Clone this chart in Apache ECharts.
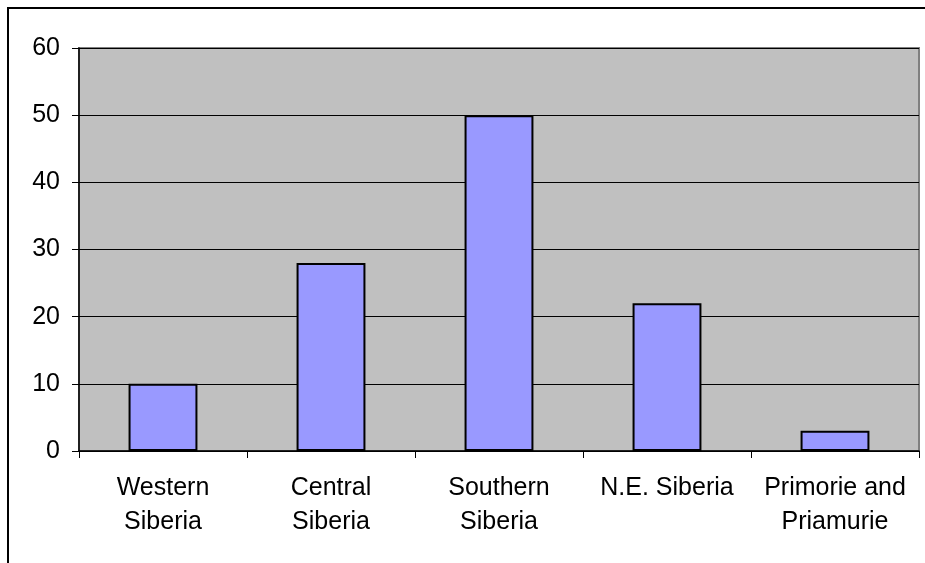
<!DOCTYPE html>
<html>
<head>
<meta charset="utf-8">
<title>Siberia regions</title>
<script src="https://cdn.jsdelivr.net/npm/echarts@6/dist/echarts.min.js"></script>
<style>
  html, body { margin: 0; padding: 0; background: #fff; }
  #chart { width: 925px; height: 563px; }
</style>
</head>
<body>
<div id="chart"></div>
<script>
// Regions along the category axis
const categories = ['Western\nSiberia', 'Central\nSiberia', 'Southern\nSiberia', 'N.E. Siberia', 'Primorie and\nPriamurie'];
// Bar heights per region
const values = [10, 28, 50, 22, 3];
// Value axis range
const yMin = 0;
const yMax = 60;
const yStep = 10;

const chart = echarts.init(document.getElementById('chart'), null, { renderer: 'canvas' });

const labelFont = {
  color: '#000',
  fontFamily: '"Liberation Sans", Arial, sans-serif',
  fontSize: 25
};

chart.setOption({
  animation: false,
  backgroundColor: '#fff',
  graphic: [{
    type: 'rect',
    shape: { x: 8, y: 8, width: 1200, height: 1000 },
    style: { fill: 'none', stroke: '#000', lineWidth: 2 },
    silent: true
  }],
  grid: {
    left: 79, right: 6, top: 48, bottom: 112,
    show: true,
    backgroundColor: '#c0c0c0',
    borderColor: '#808080',
    borderWidth: 2
  },
  xAxis: {
    type: 'category',
    data: categories,
    axisLine: { show: true, lineStyle: { color: '#000', width: 1.5 } },
    axisTick: { show: true, alignWithLabel: false, length: 7, lineStyle: { color: '#000' } },
    axisLabel: Object.assign({ margin: 20, lineHeight: 34, interval: 0 }, labelFont),
    splitLine: { show: false }
  },
  yAxis: {
    type: 'value',
    min: yMin, max: yMax, interval: yStep,
    axisLine: { show: true, lineStyle: { color: '#000', width: 1.5 } },
    axisTick: { show: true, length: 7, lineStyle: { color: '#000' } },
    axisLabel: Object.assign({ margin: 19 }, labelFont),
    splitLine: { show: true, lineStyle: { color: '#000', width: 1 } }
  },
  series: [{
    type: 'bar',
    data: values,
    barWidth: '41%',
    itemStyle: { color: '#9999ff', borderColor: '#000', borderWidth: 2 }
  }]
});
</script>
</body>
</html>
